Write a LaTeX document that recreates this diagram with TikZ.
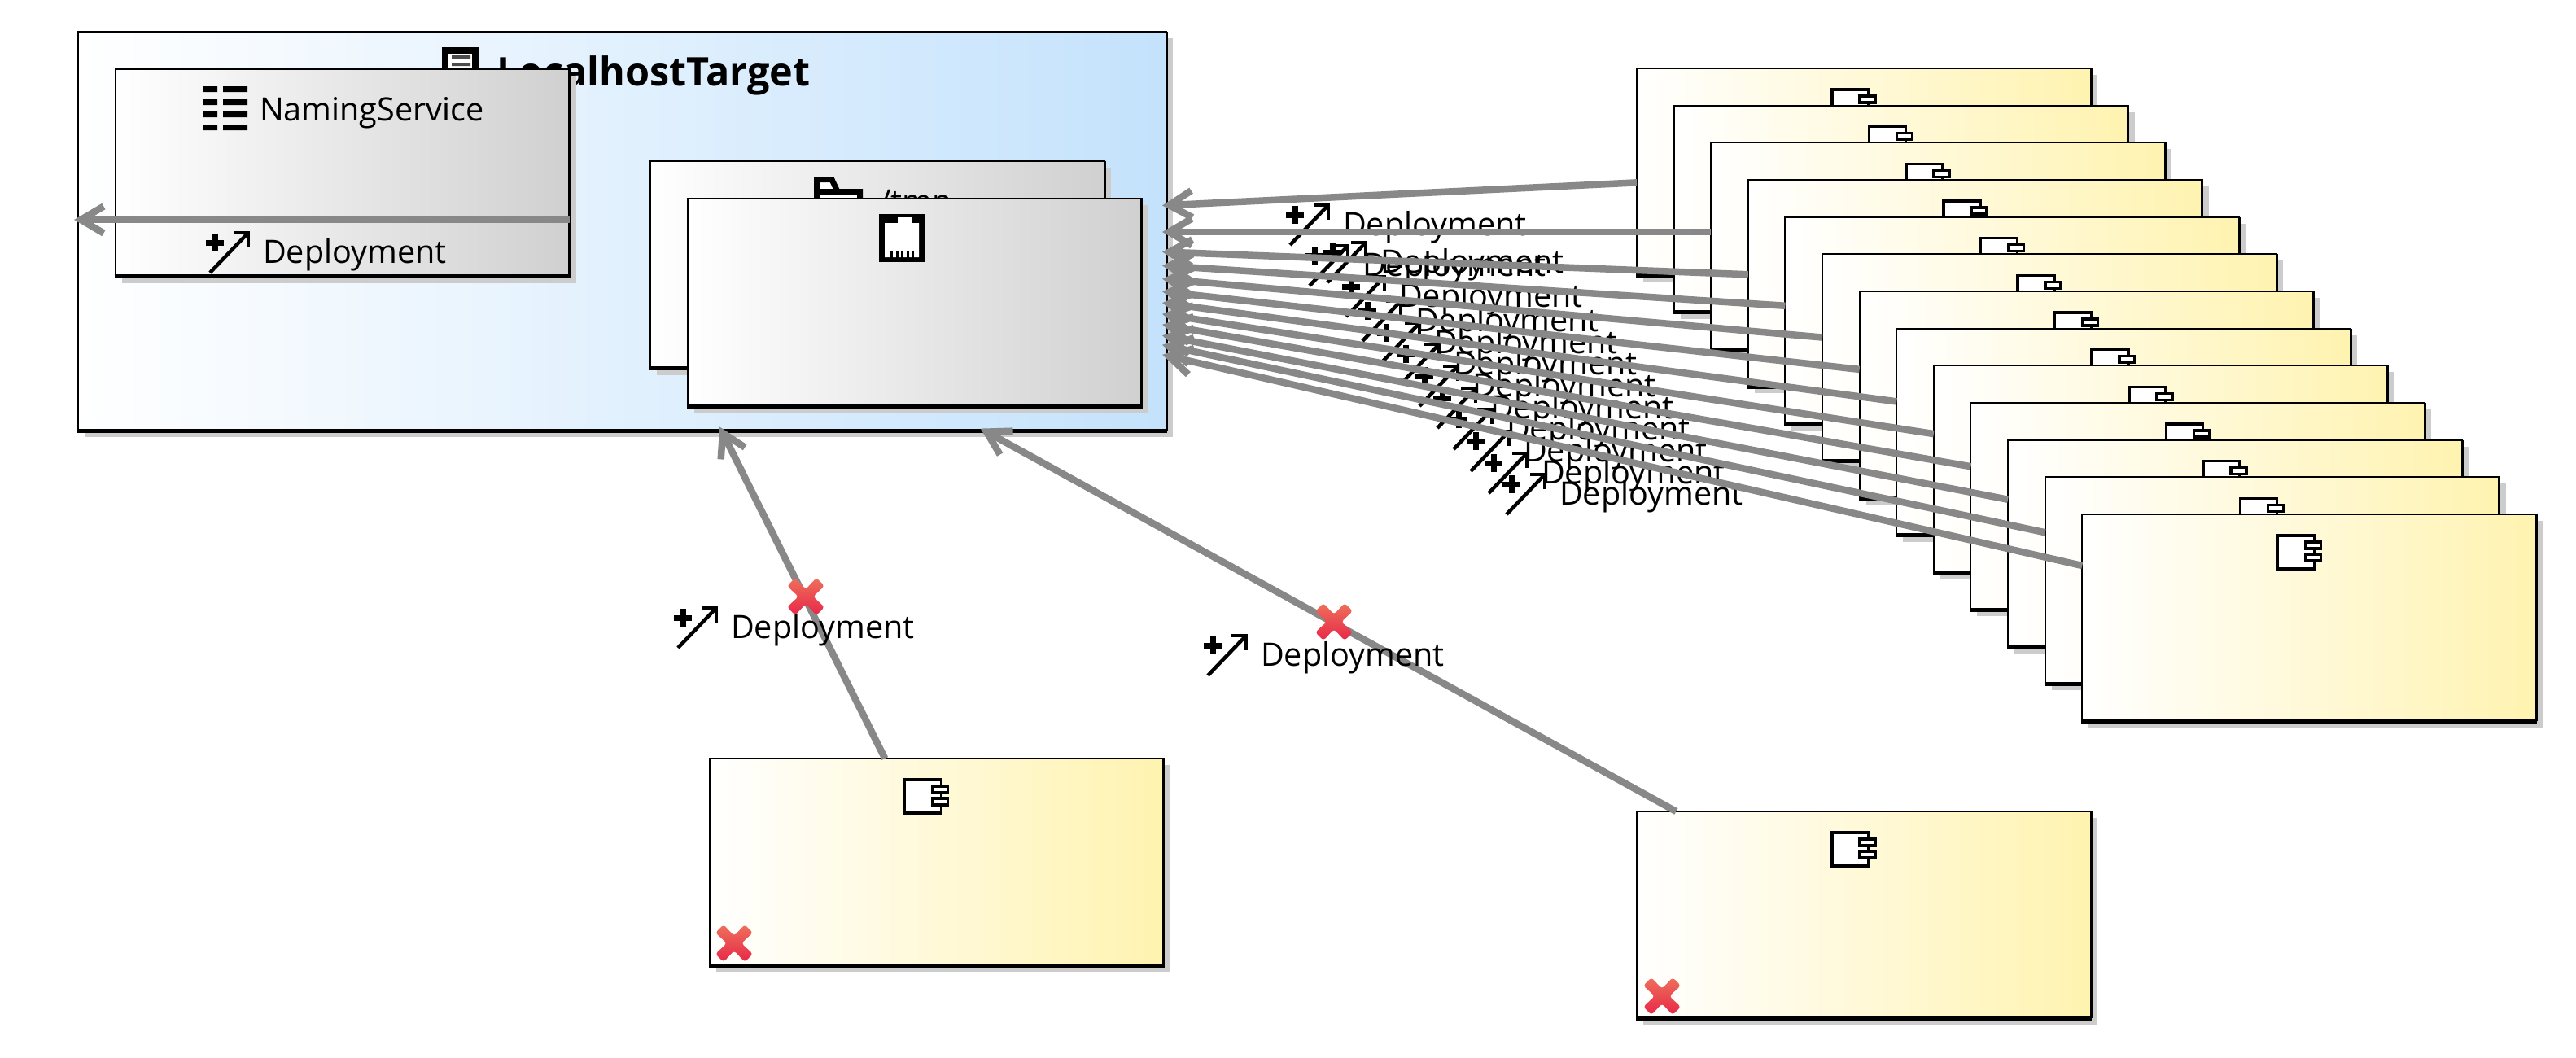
\documentclass[tikz,border=0pt]{standalone}
\usepackage{fontspec}
\setmainfont{Open Sans}
\usetikzlibrary{shadows,arrows.meta}
\definecolor{dep_gray}{RGB}{136, 136, 136}
\definecolor{comp_yellow}{RGB}{255, 243, 176}
\definecolor{main_blue}{RGB}{196, 226, 252}
\definecolor{box_gray}{RGB}{208, 208, 208}
\definecolor{err_top}{RGB}{238, 112, 92}
\definecolor{err_bot}{RGB}{232, 40, 72}
\tikzstyle{boxn}=[rectangle,draw=black,line width=0.02cm,outer sep=0pt,inner sep=0pt,
  drop shadow={shadow xshift=0.08cm,shadow yshift=-0.08cm,fill=black!20,opacity=1},
  append after command={(\tikzlastnode.south west) edge[line width=0.05cm,shorten <=-0.01cm,shorten >=-0.01cm] (\tikzlastnode.south east)
    (\tikzlastnode.north east) edge[line width=0.03cm] (\tikzlastnode.south east)}]
\tikzstyle{comp}=[boxn,left color=white,right color=comp_yellow,minimum width=5.58cm,minimum height=2.54cm]
\tikzstyle{gn}=[boxn,left color=white,right color=box_gray,minimum width=5.58cm,minimum height=2.55cm]
\tikzstyle{bn}=[boxn,left color=white,right color=main_blue,minimum width=13.37cm,minimum height=4.9cm]
\tikzstyle{txt}=[inner sep=0pt,outer sep=0pt,anchor=base west,font=\fontsize{11.25}{13}\selectfont]
\tikzstyle{dl}=[draw=dep_gray,line width=0.085cm,shorten >=-0.05cm,-{Straight Barb[length=2.8mm,width=3.3mm,line width=0.085cm]}]
\tikzstyle{ic}=[draw=black,line width=0.035cm]
\newcommand{\compbox}[3]{
  \node [style=comp] (#1) at (#2,#3) {};
  \begin{scope}[shift={(#1.north west)}]
    \draw [style=ic,fill=white] (2.40,0.26) rectangle (2.85,0.67);
    \draw [style=ic,fill=white] (2.74,0.34) rectangle (2.93,0.42);
    \draw [style=ic,fill=white] (2.74,0.49) rectangle (2.93,0.57);
  \end{scope}
}
\newcommand{\deplabel}[3]{
  \node [style=txt] (#1) at (#2,#3) {Deployment};
  \begin{scope}[shift={(#1.base west)}]
    \draw [line width=0.07cm] (-0.70,-0.25) -- (-0.48,-0.25) (-0.59,-0.36) -- (-0.59,-0.14);
    \draw [line width=0.045cm] (-0.65,0.12) -- (-0.18,-0.37);
    \draw [line width=0.035cm] (-0.36,-0.37) -- (-0.18,-0.37) -- (-0.18,-0.19);
  \end{scope}
}
\newcommand{\errx}[2]{
  \path [rounded corners=1pt,top color=err_top,bottom color=err_bot,shift={(#1,#2)}]
    (-0.23,-0.13) -- (-0.13,-0.23) -- (0,-0.09) -- (0.13,-0.23) -- (0.23,-0.13) -- (0.09,0)
    -- (0.23,0.13) -- (0.13,0.23) -- (0,0.09) -- (-0.13,0.23) -- (-0.23,0.13) -- (-0.09,0) -- cycle;
}
\begin{document}
\begin{tikzpicture}[x=1cm,y=-1cm]
    \useasboundingbox (0,0) rectangle (31.65,12.99);
    % target with its icon and name
    \node [style=bn] (main) at (7.645,2.84) {};
    \draw [line width=0.08cm,fill=white] (5.47,0.62) rectangle (5.84,1.1);
    \fill [black!70] (5.55,0.68) rectangle (5.78,0.72) (5.55,0.77) rectangle (5.78,0.81);
    \node [style=txt,font=\fontsize{13.8}{16}\selectfont\bfseries] (title) at (6.10,1.05) {LocalhostTarget};
    % naming service
    \node [style=gn] (ns) at (4.205,2.12) {};
    \foreach \r in {1.06,1.22,1.37,1.53}
      \fill (2.50,\r) rectangle (2.67,\r+0.07) (2.74,\r) rectangle (3.04,\r+0.07);
    \node [style=txt] (nstext) at (3.19,1.48) {NamingService};
    \deplabel{nsdep}{3.23}{3.23}
    % folder and port
    \node [style=gn] (tmp) at (10.78,3.25) {};
    \draw [line width=0.07cm,fill=white] (10.035,2.65) -- (10.035,2.205) -- (10.22,2.205) -- (10.29,2.355) -- (10.565,2.355) -- (10.565,2.65) -- cycle;
    \draw [line width=0.07cm] (10.035,2.355) -- (10.29,2.355);
    \node [style=txt] (tmptext) at (10.80,2.61) {/tmp};
    \node [style=gn] (port) at (11.235,3.715) {};
    \fill (10.80,2.63) rectangle (11.36,3.22);
    \fill [white] (10.87,2.74) -- (11.03,2.74) -- (11.03,2.67) -- (11.20,2.67) -- (11.20,2.74) -- (11.29,2.74) -- (11.29,3.16) -- (10.87,3.16) -- cycle;
    \foreach \t in {10.95,11.02,11.08,11.15,11.21}
      \draw [line width=0.03cm] (\t,3.08) -- (\t,3.17);
    % the stack of components
    \compbox{c0}{22.90}{2.11}
    \compbox{c1}{23.356}{2.567}
    \compbox{c2}{23.812}{3.023}
    \compbox{c3}{24.268}{3.480}
    \compbox{c4}{24.724}{3.937}
    \compbox{c5}{25.18}{4.393}
    \compbox{c6}{25.636}{4.850}
    \compbox{c7}{26.092}{5.307}
    \compbox{c8}{26.548}{5.763}
    \compbox{c9}{27.004}{6.22}
    \compbox{c10}{27.46}{6.677}
    \compbox{c11}{27.916}{7.133}
    \compbox{c12}{28.372}{7.59}
    \compbox{ca}{11.505}{10.59}
    \compbox{cb}{22.90}{11.24}
    % labels of the stack, under the lines
    \deplabel{l0}{16.50}{2.89}
    \deplabel{l1}{16.74}{3.39}
    \deplabel{l2}{16.96}{3.35}
    \deplabel{l3}{17.19}{3.77}
    \deplabel{l4}{17.39}{4.07}
    \deplabel{l5}{17.62}{4.34}
    \deplabel{l6}{17.86}{4.60}
    \deplabel{l7}{18.09}{4.87}
    \deplabel{l8}{18.31}{5.14}
    \deplabel{l9}{18.51}{5.40}
    \deplabel{l10}{18.72}{5.67}
    \deplabel{l11}{18.94}{5.94}
    \deplabel{l12}{19.16}{6.20}
    \draw [style=dl] (c0) to (main);
    \draw [style=dl] ([yshift=1.73mm]c2.west) to ([yshift=1.73mm]c2.west -| main.east);
    \draw [style=dl] (c3) to (main);
    \draw [style=dl] (c4) to (main);
    \draw [style=dl] (c5) to (main);
    \draw [style=dl] (c6) to (main);
    \draw [style=dl] (c7) to (main);
    \draw [style=dl] (c8) to (main);
    \draw [style=dl] (c9) to (main);
    \draw [style=dl] (c10) to (main);
    \draw [style=dl] (c11) to (main);
    \draw [style=dl] (c12) to (main);
    \draw [style=dl] ([yshift=-5.8mm]ns.east) to ([yshift=-5.8mm]ns.east -| main.west);
    \draw [style=dl] (ca) to (main);
    \draw [style=dl] (cb) to (main);
    \deplabel{la}{8.98}{7.84}
    \deplabel{lb}{15.49}{8.18}
    \errx{9.90}{7.33}
    \errx{16.39}{7.64}
    \errx{9.02}{11.59}
    \errx{20.42}{12.24}
  \end{tikzpicture}
\end{document}
